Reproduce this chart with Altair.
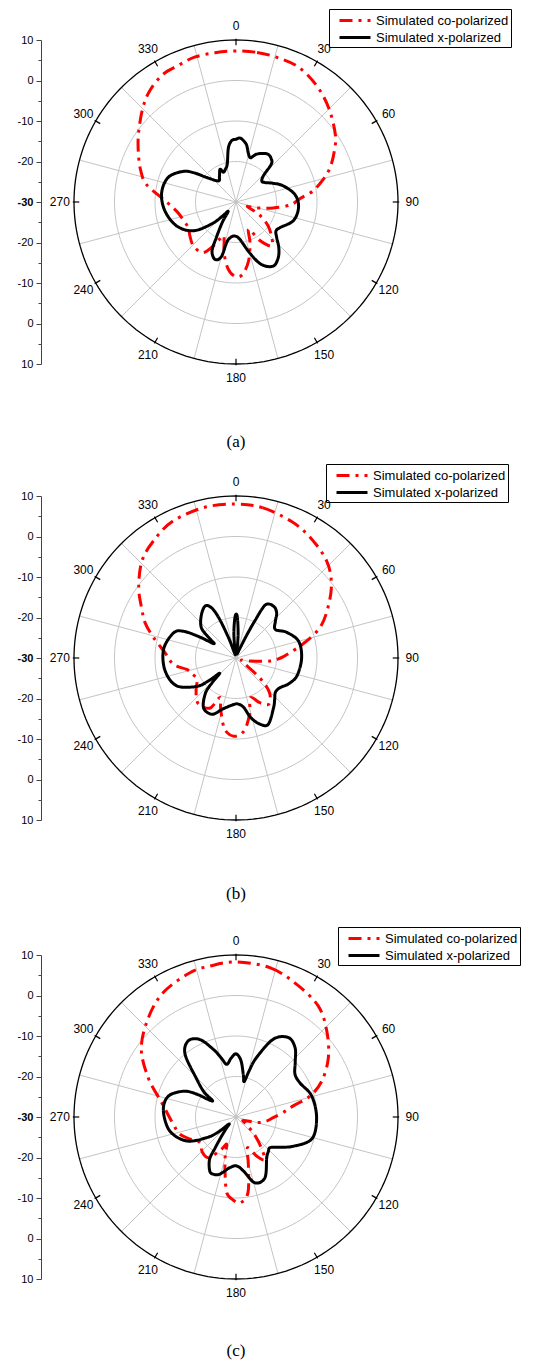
import altair as alt
import pandas as pd
import numpy as np

CO = "Simulated co-polarized"
XP = "Simulated x-polarized"

# ---------------- data (angle in degrees, gain in dB) ----------------
a_co_ang = [0, 8, 16, 25, 35, 45, 56, 63, 70, 76, 82, 87, 93, 99, 107, 112, 117, 122, 127, 134,
            141, 148, 155, 161, 168, 175, 181, 187, 193, 198, 202, 206, 213, 224, 233, 242, 252, 261, 271, 281,
            288, 296, 305, 315, 322, 330, 337, 344, 352]
a_co_db = [7.3, 7.3, 7.1, 6.7, 4.9, 2.5, -0.4, -2.8, -5.3, -8, -10.9, -14.2, -16.5, -20.7, -25, -27, -24.2, -22, -20, -17.8,
           -16, -18.7, -22.6, -19.4, -15.1, -12, -11.7, -13.5, -17, -20.5, -21, -18.5, -15.1, -14.9, -15.8, -16.6, -16.2, -15.2, -12.5, -7.5,
           -5.3, -3.2, -0.6, 2.6, 4.7, 6.3, 6.6, 7.2, 7.2]
a_x_ang = [0, 4, 10, 14, 18, 23, 29, 34, 39, 43, 46, 51, 56, 63, 71, 83, 95, 108, 120, 126,
           131, 137, 143, 150, 158, 165, 174, 182, 189, 193, 195, 200, 206, 209, 214, 220, 224, 228, 236, 248,
           263, 277, 290, 300, 305, 310, 320, 327, 334, 337, 342, 347, 352, 356]
a_x_db = [-14.5, -14.2, -15.5, -17.5, -18.5, -17.2, -16.3, -15.8, -16.2, -17.2, -20.5, -21.8, -21.4, -19.8, -17.7, -15.3, -14.5, -15.1, -17.4, -17.8,
          -16.7, -14.5, -12.7, -11.7, -13.4, -17, -20.7, -21.6, -21.1, -19.7, -16, -14.9, -16.5, -20, -24, -27, -25, -21.9, -17.3, -14.2,
          -12.3, -11.5, -12.2, -14.9, -17.5, -20.6, -23.2, -22.5, -21, -22, -21.5, -20.4, -16.5, -14.8]

b_co_ang = [0, 10, 22, 32, 43, 52, 61, 70, 78, 84, 90, 95, 102, 110, 120, 126, 129, 132, 137, 145,
            152, 160, 166, 172, 177, 182, 187, 191, 197, 202, 207, 215, 222, 232, 241, 250, 257, 264, 274, 284,
            291, 298, 306, 316, 325, 335, 348]
b_co_db = [8, 7.7, 6.4, 4.9, 2.8, -0.1, -4, -7.9, -13, -16.5, -19, -21.5, -26.4, -28.5, -28, -26.5, -23.5, -20.5, -17.7, -16,
           -17.5, -19.6, -16, -12.6, -11, -10.7, -11.5, -13.3, -17, -19.5, -16.2, -15.4, -15.6, -17.5, -19, -18.5, -17.5, -14.5, -12.5, -9,
           -6, -3.6, -0.3, 3.4, 5.4, 7.2, 8]
b_x_ang = [0, 2, 5, 8, 15, 22, 25, 27, 29, 36, 42, 47, 54, 63, 75, 90, 106, 116, 124, 131,
           137, 143, 154, 160, 166, 171, 177, 183, 195, 203, 213, 221, 224, 227, 230, 234, 245, 260, 277, 292,
           297, 300, 303, 307, 311, 320, 329, 334, 337, 340, 345, 352, 355, 358]
b_x_db = [-19.2, -20, -24, -28, -29, -27.5, -24, -19.5, -15, -14.2, -15, -16.7, -18, -16, -14, -13.8, -14.3, -15.5, -16.9, -17.1,
          -16, -14.6, -11.8, -12.6, -14.8, -17.6, -18.6, -18.5, -16.9, -14.9, -15.3, -18.5, -21.5, -24.5, -21.5, -18.1, -13.8, -12.2, -12, -13.4,
          -15.5, -19.5, -23.5, -21.5, -18.7, -16.6, -15.1, -16.2, -19.5, -25, -29, -28, -24, -20.5]

c_co_ang = [0, 13, 24.6, 36.6, 46.5, 57.3, 67.2, 74.2, 79, 85, 91, 98, 105, 115, 125, 133, 140, 146, 152, 158,
            162, 165.4, 171, 177, 182, 187, 191.5, 196, 199, 205, 214, 224, 234.5, 244, 253, 266, 281, 294, 306, 318.6,
            329.7, 342.3, 350]
c_co_db = [8.3, 7.8, 6, 4.1, 0.9, -2.9, -7, -11, -15.6, -18.5, -20.8, -22.5, -24.7, -28, -27, -24, -20.5, -17.3, -19, -21.8,
           -21, -17.9, -11.1, -8.8, -9.5, -11.2, -16.4, -20.4, -22.9, -21, -17.9, -18, -19.1, -17.5, -15.5, -14.1, -11.3, -6.3, -1.1, 2.7,
           5.6, 7.4, 7.8]
c_x_ang = [0, 5, 10, 13, 16, 19, 25.6, 33.4, 40.4, 47, 54, 62, 74.5, 90.5, 106, 117, 125, 132, 137, 143,
           154.5, 164, 172, 179, 187, 196, 202, 206, 212, 214, 217, 221, 225, 230, 235, 244, 258, 275, 287, 296,
           300, 304, 308, 314, 321, 328, 335, 341.5, 346, 350, 355]
c_x_db = [-14.4, -16, -19.5, -21, -18, -14.5, -8.7, -6.5, -7.5, -10, -12, -12.1, -10.6, -10.1, -10.5, -14.1, -17, -18.7, -18.3, -17.4,
          -13.4, -13.1, -16.5, -17.9, -17.4, -15.3, -14.8, -15.2, -17.7, -20.8, -24.1, -26.5, -27.5, -24, -21.1, -16.5, -13.3, -12, -12.5, -15.5,
          -18.5, -23, -20, -16.5, -10, -7.8, -8.9, -12.4, -15, -16.8, -15.5]

captions = ["(a)", "(b)", "(c)"]
grid_db = [-20, -10, 0]
outer_db = 10
center_db = -30
spoke_ang = [15, 45, 75, 105, 135, 165, 195, 225, 255, 285, 315, 345]
tick_ang = [0, 30, 60, 90, 120, 150, 180, 210, 240, 270, 300, 330]

# ---------------- helpers ----------------
SIZE = 324
xs = alt.Scale(domain=[-40, 40], nice=False, zero=False)
ys = alt.Scale(domain=[-40, 40], nice=False, zero=False)

yaxis = alt.Axis(
    values=list(range(-40, 41, 5)),
    labelExpr="datum.value % 10 === 0 ? '' + (abs(datum.value) - 30) : ''",
    offset=33, title=None, grid=False, labelOverlap=False,
    domainColor="#444444", tickColor="#444444",
    tickSize={"condition": {"test": "datum.value % 10 === 0", "value": 5}, "value": 3},
    labelFont="Liberation Sans", labelFontSize=11, labelColor="black", labelPadding=3,
    labelFontWeight={"condition": {"test": "datum.value === 0", "value": "bold"}, "value": "normal"},
)

X = alt.X("x:Q", scale=xs, axis=None)
Y = alt.Y("y:Q", scale=ys, axis=yaxis)

XY = dict(x="datum.r * sin(datum.ang * PI / 180)", y="datum.r * cos(datum.ang * PI / 180)")

circle_ang = list(np.arange(0, 362, 2))


def panel(co_ang, co_db, x_ang, x_db, caption, lx, ly, cap_off):
    gdf = pd.DataFrame({"ang": circle_ang * len(grid_db),
                        "db": [d for d in grid_db for _ in circle_ang]})
    grid = alt.Chart(gdf).transform_calculate(r=f"datum.db - ({center_db})").transform_calculate(**XY).mark_line(
        color="#c4c4c4", strokeWidth=1).encode(x=X, y=Y, detail="db:N", order="ang:Q")

    odf = pd.DataFrame({"ang": circle_ang, "db": [outer_db] * len(circle_ang)})
    outer = alt.Chart(odf).transform_calculate(r=f"datum.db - ({center_db})").transform_calculate(**XY).mark_line(
        color="black", strokeWidth=1.3).encode(x=X, y=Y, order="ang:Q")

    sdf = pd.DataFrame({"ang": spoke_ang})
    spokes = alt.Chart(sdf).transform_calculate(
        x0="0", y0="0",
        x1=f"{outer_db - center_db} * sin(datum.ang * PI / 180)",
        y1=f"{outer_db - center_db} * cos(datum.ang * PI / 180)",
    ).mark_rule(color="#c4c4c4", strokeWidth=1).encode(
        x=alt.X("x0:Q", scale=xs, axis=None), y=alt.Y("y0:Q", scale=ys, axis=yaxis), x2="x1:Q", y2="y1:Q")

    tdf = pd.DataFrame({"ang": tick_ang})
    ticks = alt.Chart(tdf).transform_calculate(
        x0="38.7 * sin(datum.ang * PI / 180)", y0="38.7 * cos(datum.ang * PI / 180)",
        x1="40.3 * sin(datum.ang * PI / 180)", y1="40.3 * cos(datum.ang * PI / 180)",
    ).mark_rule(color="black", strokeWidth=1.2).encode(
        x=alt.X("x0:Q", scale=xs, axis=None), y=alt.Y("y0:Q", scale=ys, axis=yaxis), x2="x1:Q", y2="y1:Q")

    labels = alt.Chart(tdf).transform_calculate(r="43.5").transform_calculate(**XY).mark_text(
        font="Liberation Sans", fontSize=12, color="black", align="center", baseline="middle").encode(
        x=X, y=Y, text=alt.Text("ang:Q", format="d"))

    cdf = pd.DataFrame({"ang": co_ang + x_ang, "db": co_db + x_db,
                        "series": [CO] * len(co_ang) + [XP] * len(x_ang)})
    leg = alt.Legend(orient="none", legendX=lx, legendY=ly, title=None,
                     strokeColor="black", padding=2, rowPadding=0,
                     symbolType="M-0.125,0H3.75", symbolSize=256, symbolStrokeWidth=3,
                     labelFont="Liberation Sans", labelFontSize=13, labelColor="black", labelOffset=26)
    curves = alt.Chart(cdf).transform_calculate(r=f"max(datum.db - ({center_db}), 0)").transform_calculate(**XY).mark_line(
        interpolate="cardinal-closed", strokeWidth=3).encode(
        x=X, y=Y,
        color=alt.Color("series:N", scale=alt.Scale(domain=[CO, XP], range=["#ff0000", "#000000"]), legend=leg),
        strokeDash=alt.StrokeDash("series:N", scale=alt.Scale(domain=[CO, XP], range=[[13, 6, 3, 6], [1, 0]]), legend=leg),
        order="ang:Q")

    return alt.layer(grid, spokes, outer, ticks, labels, curves).properties(
        width=SIZE, height=SIZE,
        title=alt.Title(caption, orient="bottom", anchor="middle", font="Liberation Serif",
                        fontSize=17, fontWeight="normal", color="black", offset=cap_off))


pa = panel(a_co_ang, a_co_db, a_x_ang, a_x_db, captions[0], 255, -31, 50)
pb = panel(b_co_ang, b_co_db, b_x_ang, b_x_db, captions[1], 252, -32, 46)
pc = panel(c_co_ang, c_co_db, c_x_ang, c_x_db, captions[2], 264, -28, 44)

top = alt.vconcat(pa, pb, spacing=12).resolve_scale(
    color="independent", strokeDash="independent").resolve_legend(
    color="independent", strokeDash="independent")

chart = alt.vconcat(top, pc, spacing=23).resolve_scale(
    color="independent", strokeDash="independent").resolve_legend(
    color="independent", strokeDash="independent").configure_view(stroke=None).properties(
    padding={"left": 9, "top": 0, "right": 0, "bottom": 0}, background="white")

chart.save("out.html", embed_options={"renderer": "svg", "actions": False})
